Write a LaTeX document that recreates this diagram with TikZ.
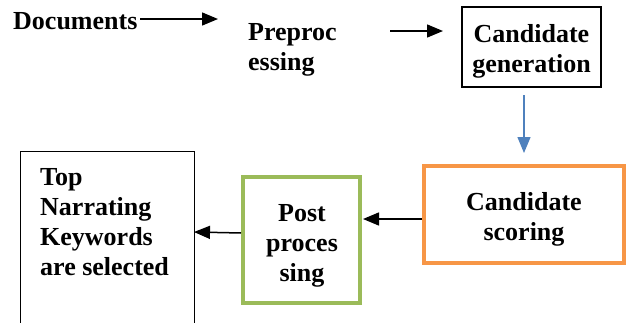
\documentclass[tikz,border=0pt]{standalone}
\usepackage{fontspec}
\setmainfont{Liberation Serif}
\usetikzlibrary{arrows.meta}
\definecolor{orangebox}{HTML}{F79646}
\definecolor{greenbox}{HTML}{9BBB59}
\definecolor{bluearrow}{HTML}{4F81BD}
\tikzset{
  lbl/.style={font=\fontsize{26}{30}\selectfont\bfseries, inner sep=0pt},
  conn/.style={line width=1.5pt, -{Triangle[length=16pt,width=13pt]}},
  thinbox/.style={draw, line width=1.2pt, inner sep=0pt}
}
\begin{document}
\begin{tikzpicture}[x=1pt,y=-1pt]
\useasboundingbox (0,0) rectangle (627,322);
\clip (0,0) rectangle (627,322);
% nodes
\node[lbl, anchor=west] (doc) at (13,21) {Documents};
\node[lbl, align=left, anchor=north west] (pre) at (248,23) {Preproc\\essing};
\node[thinbox, minimum width=139pt, minimum height=80pt] (gen) at (531.5,47) {};
\node[lbl, align=center] (gentxt) at (531.5,51) {Candidate\\generation};
\node[draw=orangebox, line width=4pt, minimum width=200pt, minimum height=97pt, inner sep=0pt] (score) at (524,214.5) {};
\node[lbl, align=center] (scoretxt) at (524,219) {Candidate\\scoring};
\node[draw=greenbox, line width=4pt, minimum width=117pt, minimum height=126pt, inner sep=0pt] (post) at (301.5,240) {};
\node[lbl, align=center] (posttxt) at (302,246) {Post\\proces\\sing};
\node[thinbox, minimum width=174pt, minimum height=190pt, anchor=north west] (top) at (20,151) {};
\node[lbl, align=left, anchor=north west] (toptxt) at (40,168) {Top\\Narrating\\Keywords\\are selected};
% connector coordinates
\coordinate (a0) at (140,19);
\coordinate (a1) at (218,19);
\coordinate (b0) at (390,31);
\coordinate (b1) at (443,31);
\coordinate (c0) at (524,95);
\coordinate (c1) at (524,153);
% connectors
\draw[conn] (a0) -- (a1);
\draw[conn] (b0) -- (b1);
\draw[conn, bluearrow, line width=1.3pt] (c0) -- (c1);
\draw[conn] (score.west |- 0,219) -- (363,219);
\draw[conn] (post.west |- 0,233) -- (194,232);
\end{tikzpicture}
\end{document}
